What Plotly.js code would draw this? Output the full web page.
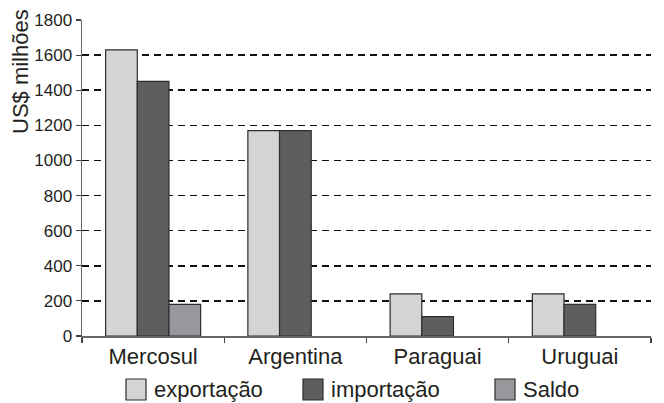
<!DOCTYPE html>
<html>
<head>
<meta charset="utf-8">
<script src="https://cdn.plot.ly/plotly-3.0.1.min.js"></script>
<style>
html,body{margin:0;padding:0;background:#fff;}
#chart{width:664px;height:403px;}
</style>
</head>
<body>
<div id="chart"></div>
<script>
const categories = ["Mercosul", "Argentina", "Paraguai", "Uruguai"];
const seriesNames = ["exportação", "importação", "Saldo"];
const exportacao = [1630, 1170, 240, 240];
const importacao = [1450, 1170, 110, 180];
const saldo = [180, null, null, null];
const yTickVals = [0, 200, 400, 600, 800, 1000, 1200, 1400, 1600, 1800];
const yTickText = ["0", "200", "400", "600", "800", "1000", "1200", "1400", "1600", "1800"];
const yTitle = "US$ milhões";

const colors = ["#d3d4d6", "#5e5e60", "#97989b"];
const edge = "#2e2e2e";
const font = "Liberation Sans, Arial, sans-serif";
const ink = "#231f20";

const values = [exportacao, importacao, saldo];
const traces = values.map((v, i) => ({
  type: "bar",
  name: seriesNames[i],
  x: categories,
  y: v,
  marker: { color: colors[i], line: { color: edge, width: 1.2 } },
  showlegend: false,
  hoverinfo: "x+y"
}));

// plot area in pixels: left 82, right 651, top 20, bottom 336
const L = 82, R = 651, T = 20, B = 336;
const px = X => (X - L) / (R - L);
const py = Y => (B - Y) / (B - T);

// manual legend (larger swatches than the built-in legend allows)
const legX = [126, 303, 495];
const shapes = [];
const annotations = [];
seriesNames.forEach((n, i) => {
  shapes.push({
    type: "rect", xref: "paper", yref: "paper",
    x0: px(legX[i]), x1: px(legX[i] + 20),
    y0: py(400), y1: py(379),
    fillcolor: colors[i], line: { color: edge, width: 1.2 }
  });
  annotations.push({
    xref: "paper", yref: "paper",
    x: px(legX[i] + 26), y: py(389.5),
    xanchor: "left", yanchor: "middle",
    text: n, showarrow: false,
    font: { family: font, size: 22, color: ink }
  });
});
annotations.push({
  xref: "paper", yref: "paper",
  x: px(20), y: py(72),
  xanchor: "center", yanchor: "middle",
  textangle: -90, text: yTitle, showarrow: false,
  font: { family: font, size: 22, color: ink }
});

const layout = {
  width: 664, height: 403,
  margin: { l: L, r: 664 - R, t: T, b: 403 - B, pad: 0 },
  paper_bgcolor: "#fff", plot_bgcolor: "#fff",
  barmode: "group", bargap: 0.332, bargroupgap: 0,
  showlegend: false,
  font: { family: font, color: ink },
  xaxis: {
    type: "category",
    range: [-0.5, 3.5],
    showline: true, linecolor: "#666", linewidth: 1.5,
    ticks: "outside", tickson: "boundaries", ticklen: 5, tickwidth: 1.2, tickcolor: "#444",
    tickfont: { family: font, size: 22, color: ink },
    showgrid: false, zeroline: false, fixedrange: true
  },
  yaxis: {
    range: [0, 1800],
    tickvals: yTickVals, ticktext: yTickText,
    showline: true, linecolor: "#666", linewidth: 1.5,
    ticks: "outside", ticklen: 5, tickwidth: 1.2, tickcolor: "#444",
    tickfont: { family: font, size: 17, color: ink },
    showgrid: true, gridcolor: "#111", gridwidth: 1.5, griddash: "7px,5px",
    zeroline: false, fixedrange: true
  },
  shapes: shapes,
  annotations: annotations
};

Plotly.newPlot("chart", traces, layout, { displayModeBar: false, staticPlot: true });
</script>
</body>
</html>
